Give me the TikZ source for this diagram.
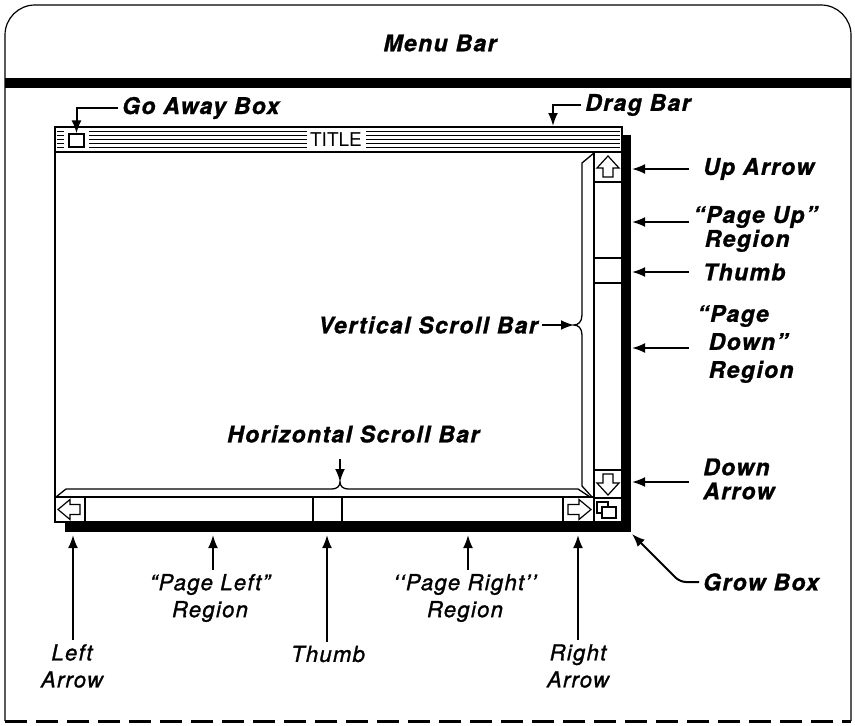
\documentclass[tikz,border=0pt]{standalone}
\usepackage{fontspec}
\setmainfont{TeX Gyre Heros}
\usetikzlibrary{arrows.meta}

\begin{document}
\begin{tikzpicture}[x=1pt,y=-1pt,
  lab/.style={font=\fontsize{23}{24}\selectfont\bfseries\itshape\addfontfeature{LetterSpace=6,FakeBold=1}, inner sep=0pt},
  sublab/.style={font=\fontsize{22}{27}\selectfont\itshape\addfontfeature{LetterSpace=6,FakeBold=1.2}, inner sep=0pt, align=center},
  pointer/.style={-{Latex[length=13pt,width=10pt]}, line width=2pt, shorten <=4pt},
  stripe/.style={line width=1pt},
  widget/.style={draw, line width=1.4pt, fill=white}]

\useasboundingbox (0,0) rectangle (855,726);

% Screen frame
\draw[line width=1.2pt, rounded corners=30pt] (5,721) -- (5,5) -- (851,5) -- (851,721);
\draw[line width=3pt, dash pattern=on 22pt off 9pt] (5,721) -- (851,721);

% Menu bar
\node[lab] (menubar) at (440,43) {Menu Bar};
\fill (5,78) rectangle (851,88);

% Window shadow
\fill (622,135) rectangle (631,532);
\fill (65,522) rectangle (631,532);

% Window and title bar
\draw[widget] (55,127) rectangle (622,522);
\draw[line width=1.4pt] (55,152) -- (622,152);
\foreach \y in {131,135,139,143,147} {
  \draw[stripe] (57,\y) -- (64,\y);
  \draw[stripe] (89,\y) -- (307,\y);
  \draw[stripe] (366,\y) -- (620,\y);
}
\node[draw, line width=1.2pt, minimum width=15pt, minimum height=13pt, inner sep=0pt] (goawaybox) at (76.5,140.5) {};
\node[font=\fontsize{19}{19}\selectfont, inner sep=0pt] (title) at (336,140) {TITLE};

% Vertical scroll bar
\draw[widget] (594,152) rectangle (622,522);
\draw[line width=1.2pt] (594,182) -- (622,182);
\draw[line width=1.2pt] (594,258) rectangle (622,283);
\draw[line width=1.2pt] (594,470) -- (622,470);
\draw[line width=1.2pt] (594,498) -- (622,498);
\draw[line width=1.2pt] (608,156) -- (619,168) -- (613,168) -- (613,177) -- (603,177) -- (603,168) -- (597,168) -- cycle;
\draw[line width=1.2pt] (608,495) -- (619,483) -- (613,483) -- (613,474) -- (603,474) -- (603,483) -- (597,483) -- cycle;

% Grow box
\draw[line width=1.1pt] (597,502) rectangle (608,513);
\draw[line width=1.1pt, fill=white] (602,507) rectangle (616,518);

% Horizontal scroll bar
\draw[widget] (55,497) rectangle (594,522);
\draw[line width=1.2pt] (85,497) -- (85,522);
\draw[line width=1.2pt] (313,497) rectangle (342,522);
\draw[line width=1.2pt] (563,497) -- (563,522);
\draw[line width=1.2pt] (58,509.5) -- (70,499.5) -- (70,504.5) -- (80,504.5) -- (80,514.5) -- (70,514.5) -- (70,519.5) -- cycle;
\draw[line width=1.2pt] (591,509.5) -- (579,499.5) -- (579,504.5) -- (568,504.5) -- (568,514.5) -- (579,514.5) -- (579,519.5) -- cycle;

% Braces along the scroll bars
\draw[line width=1.3pt] (594,153) -- (582,163) -- (582,315) .. controls (582,322) and (578,325) .. (574,325)
  .. controls (578,325) and (582,328) .. (582,335) -- (582,486) -- (592,497);
\draw[line width=1.3pt] (56,497) -- (66,489) -- (332,489) .. controls (337,489) and (340,486) .. (340,482)
  .. controls (340,486) and (343,489) .. (348,489) -- (578,489) -- (590,497);

% Tips
\coordinate (rcol) at (693,0);
\coordinate (dragTip) at (553,126);
\coordinate (upTip) at (632,169);
\coordinate (pgupTip) at (632,222);
\coordinate (thumbvTip) at (632,272);
\coordinate (pgdnTip) at (632,348);
\coordinate (downTip) at (632,482);
\coordinate (growTip) at (632,534);
\coordinate (growBend) at (680,582);
\coordinate (vsTip) at (574,325);
\coordinate (hsTip) at (340,482);
\coordinate (laTip) at (73,535);
\coordinate (plTip) at (213,535);
\coordinate (thumbhTip) at (327,535);
\coordinate (prTip) at (468,535);
\coordinate (raTip) at (578,535);

% Labels, top and right
\node[lab, anchor=west] (goaway) at (122,108) {Go Away Box};
\node[lab, anchor=west] (drag) at (585,105) {Drag Bar};
\node[lab, anchor=west] (uparrow) at (703,169) {Up Arrow};
\node[lab, anchor=west, align=left] (pageup) at (693,229) {“Page Up”\\\phantom{“}Region};
\node[lab, anchor=west] (thumbv) at (703,272) {Thumb};
\node[lab, anchor=west, align=left, font=\fontsize{23}{28}\selectfont\bfseries\itshape\addfontfeature{LetterSpace=6,FakeBold=1}] (pagedown) at (697,344) {“Page\\\phantom{“}Down”\\\phantom{“}Region};
\node[lab, anchor=west, align=left] (downarrow) at (703,479) {Down\\Arrow};
\node[lab, anchor=west] (growbox) at (703,582) {Grow Box};
\node[lab, anchor=east] (vscroll) at (538,325) {Vertical Scroll Bar};
\node[lab, anchor=west] (hscroll) at (227,434) {Horizontal Scroll Bar};

\draw[pointer] (goaway.west) -| (goawaybox.north);
\draw[pointer] (drag.west) -| (dragTip);
\draw[pointer] (rcol |- upTip) -- (upTip);
\draw[pointer] (rcol |- pgupTip) -- (pgupTip);
\draw[pointer] (rcol |- thumbvTip) -- (thumbvTip);
\draw[pointer] (rcol |- pgdnTip) -- (pgdnTip);
\draw[pointer] (rcol |- downTip) -- (downTip);
\draw[pointer, rounded corners=6pt] (growbox.west) -- (growBend) -- (growTip);
\draw[pointer] (vscroll.east) -- (vsTip);
\draw[pointer, shorten <=16pt] (hsTip |- hscroll.south) -- (hsTip);

% Labels, bottom
\node[sublab] (leftarrow) at (72,666) {Left\\Arrow};
\node[sublab] (pageleft) at (210,598) {“Page Left”\\Region};
\node[sublab] (thumbh) at (328,654) {Thumb};
\node[sublab] (pageright) at (465,598) {‘‘Page Right’’\\Region};
\node[sublab] (rightarrow) at (578,666) {Right\\Arrow};

\draw[pointer] (laTip |- leftarrow.north) -- (laTip);
\draw[pointer] (plTip |- pageleft.north) -- (plTip);
\draw[pointer] (thumbhTip |- thumbh.north) -- (thumbhTip);
\draw[pointer] (prTip |- pageright.north) -- (prTip);
\draw[pointer] (raTip |- rightarrow.north) -- (raTip);

\end{tikzpicture}
\end{document}
